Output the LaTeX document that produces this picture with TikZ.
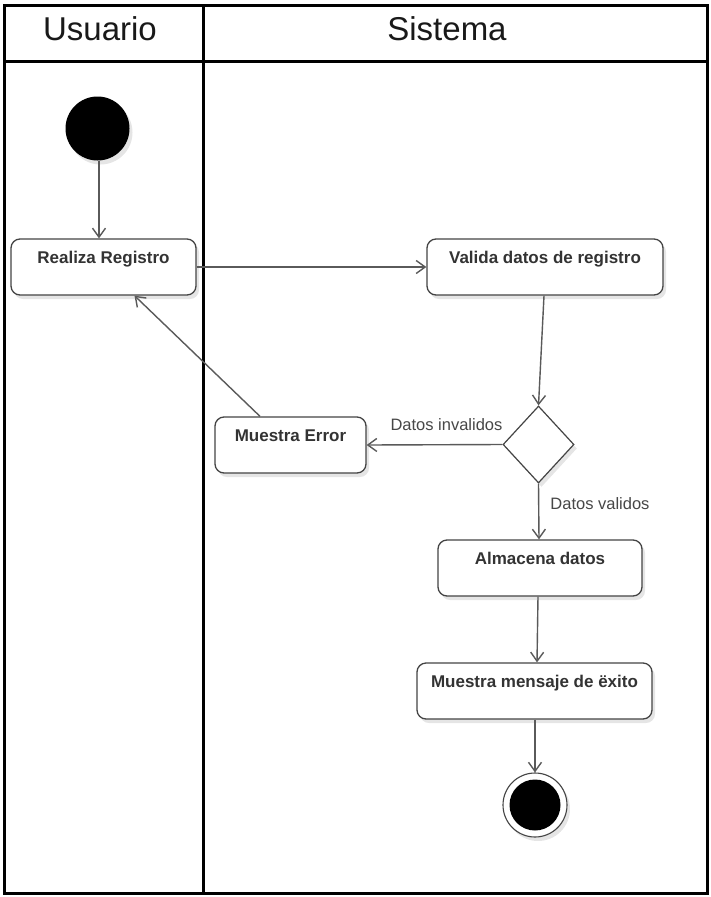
\documentclass[tikz,border=0pt]{standalone}
\usepackage{fontspec}
\setmainfont{Liberation Sans}
\usetikzlibrary{arrows.meta,shapes.geometric,shadows}

\definecolor{boxline}{HTML}{444444}
\definecolor{flowline}{HTML}{5A5A5A}
\definecolor{txt}{HTML}{333333}

\begin{document}
\begin{tikzpicture}[x=1pt,y=-1pt,
  lane/.style={line width=3pt,black},
  soft/.style={drop shadow={shadow xshift=3pt,shadow yshift=-4pt,fill=black,opacity=0.10}},
  act/.style={draw=boxline,line width=1.3pt,rounded corners=9pt,fill=white,
    inner sep=0pt,text height=24pt,text depth=32pt,text=txt,
    font=\bfseries\fontsize{17}{20}\selectfont,soft},
  decision/.style={draw=boxline,line width=1.2pt,diamond,fill=white,inner sep=0pt,
    minimum width=71pt,minimum height=77pt,aspect=0.92,soft},
  flow/.style={draw=flowline,line width=1.4pt,-{Straight Barb[length=9pt,width=13pt,line width=1.4pt]}},
  guard/.style={text=txt!90,font=\fontsize{16.5}{19}\selectfont,inner sep=0pt},
  head/.style={font=\fontsize{33}{38}\selectfont,text=black!90,inner sep=0pt,anchor=base}
]
\useasboundingbox (0,0) rectangle (711,897);
\fill[white] (0,0) rectangle (711,897);

% swimlanes
\draw[lane] (4.5,5.5) rectangle (707,893);
\draw[lane] (4.5,61.5) -- (707,61.5);
\draw[lane] (203.5,5.5) -- (203.5,893);
\node[head] (husr) at (100,40) {Usuario};
\node[head] (hsys) at (447,40) {Sistema};

% initial and final states
\node[circle,fill=black,minimum size=64pt,inner sep=0pt,soft] (start) at (97.5,128.5) {};
\node[circle,draw=boxline,line width=1.1pt,fill=white,minimum size=64pt,inner sep=0pt,soft] (endo) at (535,805) {};
\node[circle,fill=black,minimum size=51pt,inner sep=0pt] (endi) at (535,805) {};

% activities
\node[act,minimum width=185pt] (rr) at (103.5,267) {Realiza Registro};
\node[act,minimum width=236pt] (vd) at (545,267) {Valida datos de registro};
\node[act,minimum width=151pt] (me) at (290.5,445) {Muestra Error};
\node[act,minimum width=204pt] (al) at (540,568) {Almacena datos};
\node[act,minimum width=235pt] (mm) at (534.5,691) {Muestra mensaje de ëxito};
\node[decision] (dec) at (538.5,444.5) {};

% transitions
\draw[flow] (start.south -| 99,0) -- (rr.north -| 99,0);
\draw[flow] (rr.east) -- (vd.west);
\draw[flow] (vd.south -| 544,0) -- (dec.north);
\draw[flow] (dec.west) -- (me.east);
\draw[flow] (dec.south) -- (al.north -| 539,0);
\draw[flow] (al.south -| 538,0) -- (mm.north -| 537,0);
\draw[flow] (mm.south -| 535,0) -- (endo.north);
\draw[flow] ([xshift=-30.5pt]me.north) -- ([xshift=31pt]rr.south);

% guards
\node[guard] (ginv) at (446.5,425) {Datos invalidos};
\node[guard] (gval) at (600,504) {Datos validos};
\end{tikzpicture}
\end{document}
